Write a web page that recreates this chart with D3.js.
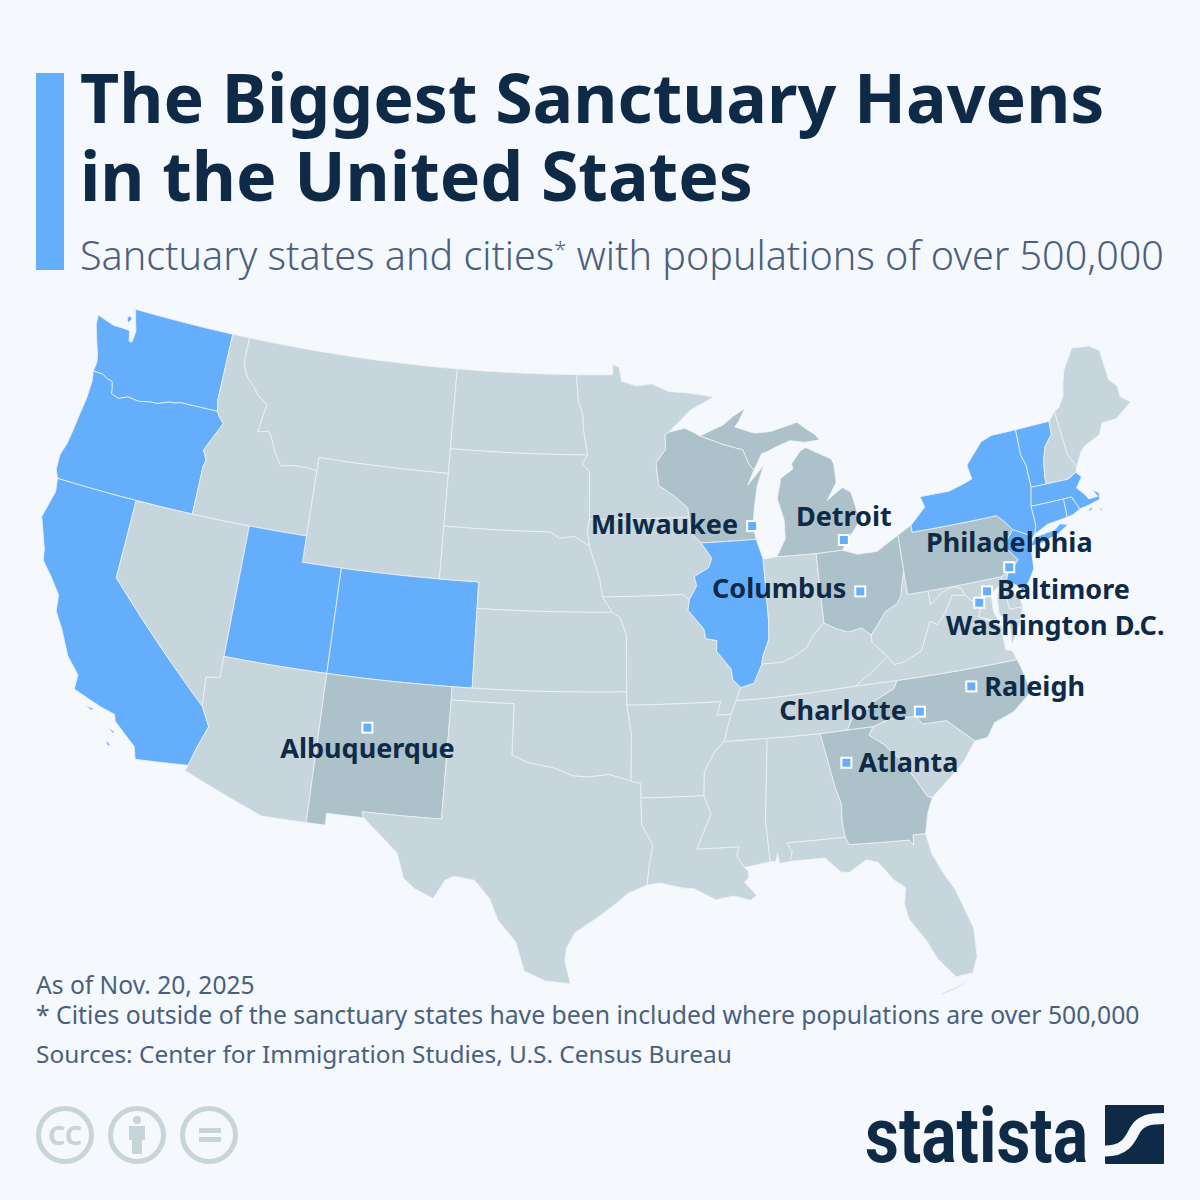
<!DOCTYPE html>
<html>
<head>
<meta charset="utf-8">
<title>The Biggest Sanctuary Havens in the United States</title>
<script src="https://d3js.org/d3.v7.min.js"></script>
<style>
  html, body { margin: 0; padding: 0; background: #f5f8fc; }
  svg { display: block; font-family: "Noto Sans", sans-serif; }
</style>
</head>
<body>
<div id="chart"></div>
<script>
const WA = [[[-122.76,49],[-117.03,49],[-117.04,46.42],[-116.92,46],[-119,46],[-119.3,45.93],[-119.6,45.92],[-120.2,45.75],[-120.65,45.74],[-121.2,45.65],[-121.85,45.7],[-122.3,45.55],[-122.75,45.65],[-122.8,45.85],[-122.9,46.1],[-123.2,46.15],[-123.5,46.27],[-124.05,46.28],[-124,46.65],[-124.1,46.95],[-124.35,47.4],[-124.65,48],[-124.7,48.38],[-123.7,48.17],[-123.1,48.17],[-122.75,48.15],[-122.62,47.75],[-122.45,47.75],[-122.4,48.2],[-122.55,48.5]],
  [[-123.1,48.6],[-122.95,48.7],[-122.8,48.6],[-122.95,48.42]]];
const OR = [[[-124.05,46.28],[-123.5,46.27],[-123.2,46.15],[-122.9,46.1],[-122.8,45.85],[-122.75,45.65],[-122.3,45.55],[-121.85,45.7],[-121.2,45.65],[-120.65,45.74],[-120.2,45.75],[-119.6,45.92],[-119.3,45.93],[-119,46],[-116.92,46],[-116.75,45.8],[-116.47,45.6],[-116.85,45],[-117.2,44.45],[-117.03,44.23],[-116.95,44.1],[-117.03,43.83],[-117.03,42],[-120,42],[-124.2,42],[-124.4,42.3],[-124.45,42.85],[-124.25,43.4],[-124.15,44],[-124.07,44.6],[-123.97,45.2],[-123.95,45.9]]];
const CA = [[[-124.2,42],[-120,42],[-120,39],[-114.6,35],[-114.13,34.3],[-114.5,33.4],[-114.72,32.72],[-117.12,32.53],[-117.3,33],[-118.4,33.75],[-118.5,34],[-119.2,34.15],[-120.6,34.55],[-120.6,35.1],[-121.3,35.7],[-121.9,36.6],[-122.4,37.2],[-122.5,37.8],[-123,38.3],[-123.7,38.9],[-123.8,39.3],[-124.4,40.45],[-124.1,41.5]],
  [[-119.9,34.05],[-119.5,34.03],[-119.6,33.95]],[[-118.6,33.45],[-118.3,33.35],[-118.4,33.3]],[[-118.6,33],[-118.35,32.82],[-118.5,32.8]]];
const NV = [[[-120,42],[-117.03,42],[-114.04,42],[-114.05,37],[-114.05,36.2],[-114.7,36.1],[-114.6,35],[-120,39]]];
const ID = [[[-117.03,49],[-116.05,49],[-116.05,48],[-115.7,47.5],[-115.3,47.25],[-114.9,46.9],[-114.35,46.65],[-114.55,45.56],[-114,45.65],[-113.8,45.5],[-113.45,44.95],[-113,44.45],[-112.3,44.55],[-111.5,44.55],[-111.05,44.48],[-111.05,42],[-114.04,42],[-117.03,42],[-117.03,43.83],[-116.95,44.1],[-117.03,44.23],[-117.2,44.45],[-116.85,45],[-116.47,45.6],[-116.75,45.8],[-116.92,46],[-117.04,46.42]]];
const MT = [[[-116.05,49],[-104.05,49],[-104.05,45.94],[-104.05,45],[-111.05,45],[-111.05,44.48],[-111.5,44.55],[-112.3,44.55],[-113,44.45],[-113.45,44.95],[-113.8,45.5],[-114,45.65],[-114.55,45.56],[-114.35,46.65],[-114.9,46.9],[-115.3,47.25],[-115.7,47.5],[-116.05,48]]];
const WY = [[[-111.05,45],[-104.05,45],[-104.05,43],[-104.05,41],[-109.05,41],[-111.05,41],[-111.05,42],[-111.05,44.48]]];
const UT = [[[-114.04,42],[-111.05,42],[-111.05,41],[-109.05,41],[-109.05,37],[-114.05,37]]];
const CO = [[[-109.05,41],[-104.05,41],[-102.05,41],[-102.05,40],[-102.04,37],[-103,37],[-109.05,37]]];
const AZ = [[[-114.05,37],[-109.05,37],[-109.05,31.33],[-111.07,31.33],[-114.8,32.5],[-114.72,32.72],[-114.5,33.4],[-114.13,34.3],[-114.6,35],[-114.7,36.1],[-114.05,36.2]]];
const NM = [[[-109.05,37],[-103,37],[-103,36.5],[-103.04,32],[-106.62,32],[-106.53,31.78],[-108.2,31.78],[-108.2,31.33],[-109.05,31.33]]];
const ND = [[[-104.05,49],[-97.23,49],[-97.1,48],[-96.85,47.5],[-96.8,46.9],[-96.56,45.94],[-104.05,45.94]]];
const SD = [[[-104.05,45.94],[-96.56,45.94],[-96.85,45.6],[-96.45,45.3],[-96.45,43.5],[-96.55,43.1],[-96.45,42.49],[-97.2,42.85],[-98,42.77],[-98.5,43],[-104.05,43],[-104.05,45]]];
const NE = [[[-104.05,43],[-98.5,43],[-98,42.77],[-97.2,42.85],[-96.45,42.49],[-96.1,41.7],[-95.9,41.2],[-95.77,40.58],[-95.3,40],[-102.05,40],[-102.05,41],[-104.05,41]]];
const KS = [[[-102.05,40],[-95.3,40],[-94.9,39.8],[-94.6,39.15],[-94.62,37],[-102.04,37]]];
const OK = [[[-103,37],[-102.04,37],[-94.62,37],[-94.62,36.5],[-94.43,35.4],[-94.48,33.64],[-95.5,33.9],[-96.5,33.8],[-97.2,33.85],[-98,34.12],[-99.2,34.3],[-100,34.56],[-100,36.5],[-103,36.5]]];
const TX = [[[-103,36.5],[-100,36.5],[-100,34.56],[-99.2,34.3],[-98,34.12],[-97.2,33.85],[-96.5,33.8],[-95.5,33.9],[-94.48,33.64],[-94.04,33.55],[-94.04,33],[-94.04,32],[-93.55,31.2],[-93.75,30.4],[-93.85,29.7],[-94.7,29.4],[-95.1,29.1],[-96,28.5],[-97,27.9],[-97.35,27.3],[-97.4,26.8],[-97.15,25.96],[-98.2,26.05],[-99.1,26.4],[-99.5,27.5],[-100.3,28.3],[-100.7,29.1],[-101.4,29.77],[-102.3,29.88],[-102.7,29.7],[-103.15,28.98],[-104,29.3],[-104.5,29.65],[-104.9,30.6],[-106,31.4],[-106.53,31.78],[-106.62,32],[-103.04,32]]];
const MN = [[[-97.23,49],[-95.15,49],[-95.15,49.38],[-94.8,49.3],[-94.65,48.75],[-93.8,48.55],[-92.95,48.62],[-92,48.3],[-90.8,48.2],[-89.5,48],[-90.85,47.55],[-92.1,46.75],[-92.3,46.65],[-92.3,46.1],[-92.85,45.6],[-92.75,44.75],[-91.9,44.3],[-91.25,43.85],[-91.22,43.5],[-96.45,43.5],[-96.45,45.3],[-96.85,45.6],[-96.56,45.94],[-96.8,46.9],[-96.85,47.5],[-97.1,48]]];
const IA = [[[-96.45,43.5],[-91.22,43.5],[-91.15,42.9],[-90.65,42.5],[-90.15,41.9],[-90.35,41.55],[-91.1,41.25],[-91,40.9],[-91.4,40.4],[-91.73,40.6],[-95.77,40.58],[-95.9,41.2],[-96.1,41.7],[-96.45,42.49],[-96.55,43.1]]];
const MO = [[[-95.77,40.58],[-91.73,40.6],[-91.4,40.4],[-91.5,40],[-90.75,39.25],[-90.7,38.9],[-90.15,38.8],[-90.2,38.4],[-89.55,37.7],[-89.5,37.3],[-89.15,36.98],[-89.4,36.5],[-89.7,36],[-90.37,36],[-90.15,36.5],[-94.62,36.5],[-94.62,37],[-94.6,39.15],[-94.9,39.8],[-95.3,40]]];
const AR = [[[-94.62,36.5],[-90.15,36.5],[-90.37,36],[-89.7,36],[-90.1,35],[-90.6,34.6],[-91.1,33.9],[-91.17,33],[-94.04,33],[-94.04,33.55],[-94.48,33.64],[-94.43,35.4]]];
const LA = [[[-94.04,33],[-91.17,33],[-90.9,32.3],[-91.6,31],[-89.73,31],[-89.85,30.65],[-89.55,30.2],[-89.4,30.05],[-89.4,29.8],[-89.6,29.65],[-89.1,29.1],[-89.4,28.95],[-90.1,29.15],[-90.9,29.05],[-91.8,29.5],[-92.3,29.55],[-93.3,29.77],[-93.85,29.7],[-93.75,30.4],[-93.55,31.2],[-94.04,32]]];
const MS = [[[-90.1,35],[-88.2,35],[-88.1,34.9],[-88.47,31.9],[-88.4,30.35],[-89.55,30.2],[-89.85,30.65],[-89.73,31],[-91.6,31],[-90.9,32.3],[-91.17,33],[-91.1,33.9],[-90.6,34.6]]];
const AL = [[[-88.2,35],[-85.6,34.98],[-85.18,32.87],[-85,32.3],[-85.05,31.55],[-85,31],[-87.6,31],[-87.4,30.65],[-87.52,30.3],[-88,30.25],[-88.05,30.65],[-88.15,30.35],[-88.4,30.35],[-88.47,31.9],[-88.1,34.9]]];
const FL = [[[-87.6,31],[-85,31],[-84.87,30.7],[-82.2,30.57],[-82.05,30.36],[-82,30.75],[-81.45,30.72],[-81.3,29.9],[-80.9,29.05],[-80.55,28.45],[-80.05,26.9],[-80.1,25.8],[-80.4,25.2],[-81.1,25.15],[-81.75,25.95],[-82.1,26.7],[-82.7,27.6],[-82.8,28.2],[-82.65,28.8],[-83.1,29.15],[-83.7,29.9],[-84.2,30.05],[-85,29.65],[-85.35,29.7],[-86,30.3],[-87.52,30.3],[-87.4,30.65]],
  [[-80.5,25],[-81.2,24.7],[-81.8,24.55],[-81.8,24.6],[-81.2,24.75]]];
const GA = [[[-85.6,34.98],[-84.32,35],[-83.1,35],[-83.35,34.7],[-82.75,34.3],[-81.95,33.5],[-81.4,32.6],[-81.1,32.1],[-80.9,32.03],[-81.2,31.5],[-81.45,30.72],[-82,30.75],[-82.05,30.36],[-82.2,30.57],[-84.87,30.7],[-85,31],[-85.05,31.55],[-85,32.3],[-85.18,32.87]]];
const SC = [[[-83.1,35],[-82.3,35.2],[-81.05,35.15],[-80.8,34.82],[-79.67,34.8],[-78.55,33.86],[-79.2,33.2],[-79.9,32.7],[-80.9,32.03],[-81.1,32.1],[-81.4,32.6],[-81.95,33.5],[-82.75,34.3],[-83.35,34.7]]];
const NC = [[[-84.32,35],[-83.1,35],[-82.3,35.2],[-81.05,35.15],[-80.8,34.82],[-79.67,34.8],[-78.55,33.86],[-77.95,33.9],[-77.5,34.4],[-76.55,34.65],[-75.55,35.25],[-75.75,36.2],[-75.87,36.55],[-81.68,36.59],[-81.9,36.3],[-82.9,35.95],[-83.5,35.55],[-84.05,35.4]]];
const TN = [[[-89.7,36],[-89.4,36.5],[-88.07,36.5],[-83.68,36.6],[-81.68,36.59],[-81.9,36.3],[-82.9,35.95],[-83.5,35.55],[-84.05,35.4],[-84.32,35],[-85.6,34.98],[-88.2,35],[-90.1,35]]];
const KY = [[[-89.4,36.5],[-89.15,36.98],[-88.5,37.1],[-88.05,37.8],[-87.1,37.8],[-86.5,37.95],[-85.8,38.25],[-85.4,38.7],[-84.82,39.1],[-84.3,38.85],[-83.7,38.65],[-83,38.73],[-82.6,38.42],[-82.6,38.15],[-81.97,37.54],[-82.7,37.1],[-83.68,36.6],[-88.07,36.5]]];
const VA = [[[-83.68,36.6],[-81.68,36.59],[-75.87,36.55],[-76,36.9],[-76.3,37],[-76.3,37.6],[-76.25,37.9],[-77,38.3],[-77.25,38.4],[-77.05,38.8],[-77.5,39.1],[-77.72,39.32],[-78.35,39.4],[-78.87,38.77],[-79.3,38.42],[-79.65,38.58],[-80.3,37.55],[-81.22,37.24],[-81.68,37.2],[-81.97,37.54],[-82.7,37.1]],
  [[-75.25,38.03],[-75.85,37.95],[-75.95,37.15],[-75.6,37.55]]];
const WV = [[[-81.97,37.54],[-82.6,38.15],[-82.6,38.42],[-81.75,39.2],[-81.1,39.45],[-80.87,39.7],[-80.52,40.64],[-80.52,39.72],[-79.48,39.72],[-79.48,39.2],[-78.75,39.6],[-78.2,39.7],[-77.83,39.6],[-77.72,39.32],[-78.35,39.4],[-78.87,38.77],[-79.3,38.42],[-79.65,38.58],[-80.3,37.55],[-81.22,37.24],[-81.68,37.2]]];
const MD = [[[-79.48,39.72],[-75.79,39.72],[-75.7,38.46],[-75.05,38.45],[-75.25,38.03],[-75.85,37.95],[-76.25,38.35],[-76.2,38.9],[-76,39.4],[-76.45,39.15],[-76.5,38.5],[-76.35,38.1],[-76.95,38.3],[-77.25,38.4],[-77.05,38.8],[-77.5,39.1],[-77.72,39.32],[-77.83,39.6],[-78.2,39.7],[-78.75,39.6],[-79.48,39.2]]];
const DE = [[[-75.79,39.72],[-75.4,39.8],[-75.55,39.5],[-75.4,39.05],[-75.1,38.8],[-75.05,38.45],[-75.7,38.46]]];
const PA = [[[-80.52,41.98],[-79.76,42.27],[-79.76,42],[-75.35,42],[-75.05,41.75],[-74.7,41.36],[-75.1,41],[-75.2,40.7],[-74.75,40.2],[-75.4,39.8],[-75.79,39.72],[-79.48,39.72],[-80.52,39.72],[-80.52,40.64]]];
const NJ = [[[-74.7,41.36],[-73.9,41],[-74.1,40.65],[-74,40.45],[-74.1,39.75],[-74.4,39.4],[-74.9,38.95],[-75,39.2],[-75.55,39.55],[-75.4,39.8],[-74.75,40.2],[-75.2,40.7],[-75.1,41]]];
const NY = [[[-79.76,42],[-79.76,42.27],[-78.9,42.85],[-79.05,43.27],[-77.5,43.27],[-76.6,43.45],[-76.2,43.55],[-76.3,44.1],[-75.3,44.85],[-74.7,45],[-73.35,45],[-73.4,44],[-73.25,43.6],[-73.27,42.75],[-73.5,42.05],[-73.5,41.3],[-73.65,41],[-73.85,40.85],[-73.9,41],[-74.7,41.36],[-75.05,41.75],[-75.35,42]],
  [[-74,40.6],[-73.7,40.88],[-72.6,40.98],[-72.3,41.15],[-71.9,41.05],[-72.5,40.8],[-73.5,40.6]]];
const VT = [[[-73.35,45],[-71.5,45],[-71.55,44.5],[-72.05,44.1],[-72.3,43.6],[-72.45,43],[-72.46,42.73],[-73.27,42.75],[-73.25,43.6],[-73.4,44]]];
const NH = [[[-71.5,45],[-71.08,45.3],[-71,43.6],[-70.7,43.08],[-70.82,42.87],[-71.3,42.7],[-72.46,42.73],[-72.45,43],[-72.3,43.6],[-72.05,44.1],[-71.55,44.5]]];
const ME = [[[-71.08,45.3],[-70.8,45.4],[-70.4,45.8],[-70.25,46.2],[-70,46.7],[-69.23,47.46],[-69,47.42],[-68.3,47.35],[-67.8,47.07],[-67.78,45.9],[-67.45,45.6],[-67.45,45.15],[-67,44.85],[-68,44.4],[-68.8,44.4],[-69.1,44],[-70,43.75],[-70.25,43.6],[-70.7,43.08],[-71,43.6]]];
const MA = [[[-73.27,42.75],[-72.46,42.73],[-71.3,42.7],[-70.82,42.87],[-70.6,42.65],[-71,42.3],[-70.65,41.95],[-70.55,41.78],[-70.05,41.78],[-70.25,42.07],[-69.95,41.9],[-70,41.65],[-70.65,41.55],[-71.12,41.5],[-71.2,41.67],[-71.38,42.02],[-71.8,42.02],[-73.5,42.05]],
  [[-70.8,41.35],[-70.5,41.45],[-70.5,41.35]],[[-70.2,41.3],[-69.97,41.3],[-70.05,41.24]]];
const RI = [[[-71.8,42.02],[-71.38,42.02],[-71.2,41.67],[-71.12,41.5],[-71.5,41.37],[-71.85,41.32]]];
const CT = [[[-73.5,42.05],[-71.8,42.02],[-71.85,41.32],[-72.9,41.25],[-73.65,41],[-73.5,41.3]]];
const MI = [[[-86.82,41.76],[-84.8,41.72],[-83.45,41.73],[-83.15,42.05],[-82.5,42.6],[-82.4,43],[-82.6,43.85],[-83,44.07],[-83.4,43.9],[-83.9,43.65],[-83.3,44.3],[-83.3,45],[-83.4,45.2],[-84.7,45.75],[-85,45.65],[-85.55,45.2],[-85.5,45],[-86.2,44.7],[-86.5,43.95],[-86.25,43.1],[-86.3,42.4]],
  [[-90.4,46.55],[-89.1,46.9],[-88.5,47.2],[-87.8,47.47],[-88.2,47],[-88.45,46.8],[-87.4,46.5],[-86.5,46.5],[-85,46.75],[-84.55,46.45],[-84.1,46.2],[-83.9,45.98],[-84.7,45.95],[-85.5,46.08],[-86.3,45.9],[-86.8,45.75],[-87.1,45.7],[-87.6,45.1],[-87.85,45.35],[-88.1,45.9],[-89.1,46.15]]];
const WI = [[[-92.1,46.75],[-91.2,46.87],[-90.75,46.7],[-90.4,46.55],[-89.1,46.15],[-88.1,45.9],[-87.85,45.35],[-87.6,45.1],[-88,44.55],[-87.05,45.25],[-87.5,44.5],[-87.75,43.7],[-87.9,43],[-87.8,42.49],[-90.65,42.5],[-91.15,42.9],[-91.22,43.5],[-91.25,43.85],[-91.9,44.3],[-92.75,44.75],[-92.85,45.6],[-92.3,46.1],[-92.3,46.65]]];
const IL = [[[-90.65,42.5],[-87.8,42.49],[-87.53,41.72],[-87.53,39.35],[-87.6,38.7],[-87.95,38.1],[-88.05,37.8],[-88.5,37.1],[-89.15,36.98],[-89.5,37.3],[-89.55,37.7],[-90.2,38.4],[-90.15,38.8],[-90.7,38.9],[-90.75,39.25],[-91.5,40],[-91.4,40.4],[-91,40.9],[-91.1,41.25],[-90.35,41.55],[-90.15,41.9]]];
const IN = [[[-87.53,41.72],[-86.82,41.76],[-84.8,41.72],[-84.82,39.1],[-85.4,38.7],[-85.8,38.25],[-86.5,37.95],[-87.1,37.8],[-88.05,37.8],[-87.95,38.1],[-87.6,38.7],[-87.53,39.35]]];
const OH = [[[-84.8,41.72],[-83.45,41.73],[-82.7,41.5],[-81.7,41.5],[-80.52,41.98],[-80.52,40.64],[-80.87,39.7],[-81.1,39.45],[-81.75,39.2],[-82.6,38.42],[-83,38.73],[-83.7,38.65],[-84.3,38.85],[-84.82,39.1]]];

const states = [WA, OR, CA, NV, ID, MT, WY, UT, CO, AZ, NM, ND, SD, NE, KS, OK, TX, MN, IA, MO, AR, LA, MS, AL, FL, GA, SC, NC, TN, KY, VA, WV, MD, DE, PA, NJ, NY, VT, NH, ME, MA, RI, CT, MI, WI, IL, IN, OH];
const sanctuaryStates = [WA, OR, CA, UT, CO, IL, NY, VT, MA, CT, RI, NJ];
const cityStates = [NM, WI, MI, OH, PA, NC, GA];

const cityNames = ["Milwaukee", "Detroit", "Columbus", "Philadelphia", "Baltimore", "Washington D.C.", "Raleigh", "Charlotte", "Atlanta", "Albuquerque"];
const cityLon = [-87.95, -83.3, -82.83, -75.28, -76.61, -77.1, -78.25, -80.84, -84.55, -106.82];
const cityLat = [43, 42.1, 40.1, 40, 39.29, 38.93, 35.9, 35.3, 33.78, 35.17];

const titleLines = ["The Biggest Sanctuary Havens", "in the United States"];
const footerLines = ["As of Nov. 20, 2025", "* Cities outside of the sanctuary states have been included where populations are over 500,000", "Sources: Center for Immigration Studies, U.S. Census Bureau"];

const width = 1200, height = 1200;
const bg = "#f5f8fc", navy = "#0f2a47", slate = "#4a607e";
const blue = "#64aefc", grey = "#c7d5dc", darker = "#acc1ca";

const svg = d3.select("#chart").append("svg")
  .attr("width", width)
  .attr("height", height)
  .style("background-color", bg);

// header
svg.append("rect").attr("x", 36).attr("y", 73).attr("width", 28).attr("height", 197).attr("fill", blue);
svg.selectAll(".title").data(titleLines).join("text")
  .attr("class", "title")
  .attr("x", 80)
  .attr("y", (d, i) => 123 + i * 78)
  .attr("font-size", 68)
  .attr("font-weight", 700)
  .attr("fill", navy)
  .text(d => d);
const sub = svg.append("text").attr("x", 80).attr("y", 270).attr("font-size", 39.5).attr("font-weight", 300).attr("fill", slate);
sub.append("tspan").text("Sanctuary states and cities");
sub.append("tspan").attr("font-size", 22).attr("dy", -13).text("*");
sub.append("tspan").attr("dy", 13).text(" with populations of over 500,000");

// map
const projection = d3.geoAlbers()
  .parallels([29.5, 45.5])
  .rotate([96, 0])
  .center([0, 38])
  .scale(1510)
  .translate([598, 665.5]);

// long borders follow parallels, so split each edge before projecting
function densify(ring) {
  const pts = [];
  ring.forEach((p, i) => {
    const q = ring[(i + 1) % ring.length];
    const n = Math.max(1, Math.ceil(Math.abs(q[0] - p[0])));
    for (let k = 0; k < n; k++) {
      pts.push(projection([p[0] + (q[0] - p[0]) * k / n, p[1] + (q[1] - p[1]) * k / n]));
    }
  });
  return pts;
}
const line = d3.line();
const statePath = s => s.map(ring => line(densify(ring)) + "Z").join("");

svg.append("g").selectAll("path").data(states).join("path")
  .attr("d", statePath)
  .attr("fill", d => sanctuaryStates.includes(d) ? blue : cityStates.includes(d) ? darker : grey)
  .attr("stroke", "#eef3f8")
  .attr("stroke-width", 0.8)
  .attr("stroke-linejoin", "round");

// city markers and labels
const labelPlace = {
  "Milwaukee": ["end", -14, 8], "Detroit": ["middle", 0, -14], "Columbus": ["end", -14, 7],
  "Philadelphia": ["middle", 0, -15], "Baltimore": ["start", 10, 8], "Washington D.C.": ["middle", 76, 32],
  "Raleigh": ["start", 13, 10], "Charlotte": ["end", -13, 8], "Atlanta": ["start", 12, 9], "Albuquerque": ["middle", 0, 30]
};
const cities = svg.append("g").selectAll("g").data(cityNames).join("g")
  .attr("transform", (d, i) => `translate(${projection([cityLon[i], cityLat[i]])})`);
cities.append("rect")
  .attr("x", -5).attr("y", -5).attr("width", 10).attr("height", 10)
  .attr("fill", blue).attr("stroke", "#fff").attr("stroke-width", 2);
cities.append("text")
  .attr("text-anchor", d => labelPlace[d][0])
  .attr("x", d => labelPlace[d][1])
  .attr("y", d => labelPlace[d][2])
  .attr("font-size", 27)
  .attr("font-weight", 700)
  .attr("fill", navy)
  .text(d => d);

// footer
svg.selectAll(".foot").data(footerLines).join("text")
  .attr("class", "foot")
  .attr("x", 36)
  .attr("y", (d, i) => [994, 1024, 1063][i])
  .attr("font-size", (d, i) => [24.6, 24.75, 24.45][i])
  .attr("fill", slate)
  .text(d => d);

// licence icons
const iconColor = "#c7d4dc";
[65, 137, 209].forEach(cx => {
  svg.append("circle").attr("cx", cx).attr("cy", 1135).attr("r", 26.5)
    .attr("fill", "none").attr("stroke", iconColor).attr("stroke-width", 5);
});
svg.append("text").attr("x", 65).attr("y", 1145).attr("text-anchor", "middle")
  .attr("font-size", 27).attr("font-weight", 700).attr("fill", iconColor).text("CC");
svg.append("circle").attr("cx", 137).attr("cy", 1120).attr("r", 4).attr("fill", iconColor);
svg.append("path").attr("fill", iconColor).attr("d", "M129 1126H145V1140H142V1154H132V1140H129Z");
svg.append("rect").attr("x", 199).attr("y", 1128).attr("width", 22).attr("height", 5).attr("fill", iconColor);
svg.append("rect").attr("x", 199).attr("y", 1137).attr("width", 22).attr("height", 5).attr("fill", iconColor);

// logo
svg.append("text").attr("x", 865).attr("y", 1162)
  .attr("font-family", "'Liberation Sans Narrow', Roboto, sans-serif")
  .attr("font-size", 78).attr("font-weight", 700).attr("fill", navy)
  .attr("textLength", 223).attr("lengthAdjust", "spacingAndGlyphs")
  .text("statista");
svg.append("rect").attr("x", 1105).attr("y", 1105).attr("width", 59).attr("height", 59).attr("rx", 1).attr("fill", navy);
svg.append("path").attr("fill", "none").attr("stroke", bg).attr("stroke-width", 11)
  .attr("d", "M1105 1151C1125 1151 1130 1140 1135 1130C1141 1120 1150 1118.5 1164 1118.5");
</script>
</body>
</html>
